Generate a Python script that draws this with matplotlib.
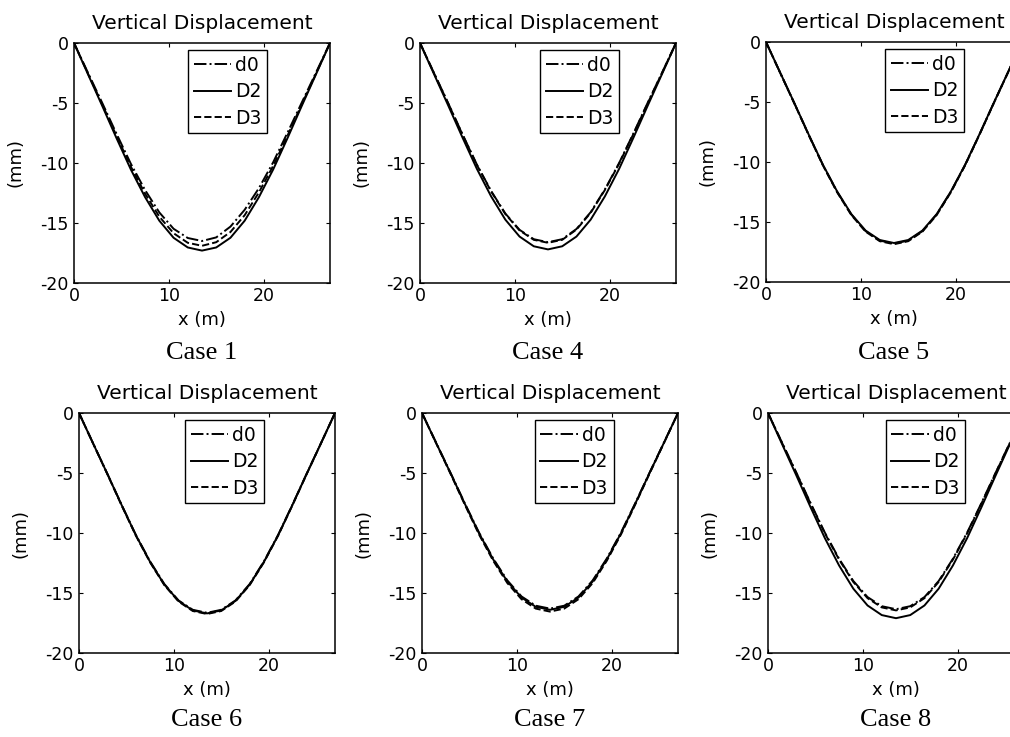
import matplotlib
matplotlib.use("Agg")
import matplotlib.pyplot as plt

plt.rcParams["axes.unicode_minus"] = False

# span positions (m), shared by every curve
x_m = [0, 1.5, 3, 4.5, 6, 7.5, 9, 10.5, 12, 13.5, 15, 16.5, 18, 19.5, 21, 22.5, 24, 25.5, 27]

# vertical displacement (mm)
case1_d0 = [0, -2.52, -5.03, -7.59, -10.07, -12.26, -14.12, -15.48, -16.25, -16.5, -16.2, -15.3, -13.9, -12.1, -9.95, -7.5, -5.0, -2.5, 0]
case1_D2 = [0, -2.65, -5.28, -7.96, -10.55, -12.85, -14.81, -16.23, -17.04, -17.3, -17.04, -16.23, -14.81, -12.85, -10.55, -7.96, -5.28, -2.65, 0]
case1_D3 = [0, -2.59, -5.15, -7.77, -10.31, -12.56, -14.47, -15.85, -16.65, -16.9, -16.6, -15.75, -14.35, -12.45, -10.25, -7.75, -5.15, -2.59, 0]

case4_d0 = [0, -2.54, -5.06, -7.64, -10.13, -12.33, -14.21, -15.57, -16.35, -16.6, -16.35, -15.5, -14.1, -12.2, -10.0, -7.55, -5.0, -2.52, 0]
case4_D2 = [0, -2.63, -5.25, -7.91, -10.49, -12.78, -14.72, -16.13, -16.94, -17.2, -16.94, -16.13, -14.72, -12.78, -10.49, -7.91, -5.25, -2.63, 0]
case4_D3 = [0, -2.55, -5.08, -7.66, -10.16, -12.37, -14.25, -15.62, -16.4, -16.65, -16.4, -15.55, -14.15, -12.25, -10.05, -7.6, -5.05, -2.54, 0]

case5_d0 = [0, -2.57, -5.12, -7.73, -10.25, -12.48, -14.38, -15.76, -16.55, -16.8, -16.55, -15.76, -14.38, -12.48, -10.25, -7.73, -5.12, -2.57, 0]
case5_D2 = [0, -2.56, -5.11, -7.71, -10.22, -12.45, -14.34, -15.71, -16.5, -16.75, -16.5, -15.71, -14.34, -12.45, -10.22, -7.71, -5.11, -2.56, 0]
case5_D3 = [0, -2.58, -5.14, -7.75, -10.28, -12.52, -14.42, -15.8, -16.6, -16.85, -16.6, -15.8, -14.42, -12.52, -10.28, -7.75, -5.14, -2.58, 0]

case6_d0 = [0, -2.55, -5.08, -7.66, -10.16, -12.37, -14.25, -15.62, -16.4, -16.65, -16.4, -15.62, -14.25, -12.37, -10.16, -7.66, -5.08, -2.55, 0]
case6_D2 = [0, -2.56, -5.09, -7.68, -10.19, -12.41, -14.3, -15.66, -16.45, -16.7, -16.45, -15.66, -14.3, -12.41, -10.19, -7.68, -5.09, -2.56, 0]
case6_D3 = [0, -2.56, -5.11, -7.71, -10.22, -12.45, -14.34, -15.71, -16.5, -16.75, -16.5, -15.71, -14.34, -12.45, -10.22, -7.71, -5.11, -2.56, 0]

case7_d0 = [0, -2.49, -4.97, -7.5, -9.94, -12.11, -13.95, -15.29, -16.06, -16.3, -16.06, -15.29, -13.95, -12.11, -9.94, -7.5, -4.97, -2.49, 0]
case7_D2 = [0, -2.51, -5.0, -7.54, -10.0, -12.19, -14.04, -15.38, -16.15, -16.4, -16.15, -15.38, -14.04, -12.19, -10.0, -7.54, -5.0, -2.51, 0]
case7_D3 = [0, -2.53, -5.05, -7.61, -10.1, -12.3, -14.17, -15.52, -16.3, -16.55, -16.3, -15.52, -14.17, -12.3, -10.1, -7.61, -5.05, -2.53, 0]

case8_d0 = [0, -2.5, -4.99, -7.52, -9.97, -12.15, -14.0, -15.34, -16.1, -16.35, -16.1, -15.34, -14.0, -12.15, -9.97, -7.52, -4.99, -2.5, 0]
case8_D2 = [0, -2.62, -5.22, -7.87, -10.43, -12.71, -14.64, -16.04, -16.84, -17.1, -16.84, -16.04, -14.64, -12.71, -10.43, -7.87, -5.22, -2.62, 0]
case8_D3 = [0, -2.52, -5.02, -7.57, -10.03, -12.22, -14.08, -15.43, -16.2, -16.45, -16.2, -15.43, -14.08, -12.22, -10.03, -7.57, -5.02, -2.52, 0]

case_names = ["Case 1", "Case 4", "Case 5", "Case 6", "Case 7", "Case 8"]
case_data = [
    (case1_d0, case1_D2, case1_D3),
    (case4_d0, case4_D2, case4_D3),
    (case5_d0, case5_D2, case5_D3),
    (case6_d0, case6_D2, case6_D3),
    (case7_d0, case7_D2, case7_D3),
    (case8_d0, case8_D2, case8_D3),
]
series_labels = ["d0", "D2", "D3"]
series_styles = ["-.", "-", "--"]

W, H = 1010, 737
# axes boxes in pixels: left, top
boxes = [(74, 43), (420, 43), (766, 42), (79, 413), (422, 413), (768, 413)]
legend_x = [0.445, 0.47, 0.465, 0.415, 0.44, 0.46]
AX_W, AX_H = 256, 240

fig = plt.figure(figsize=(W / 100, H / 100), dpi=100)

for i, (name, series) in enumerate(zip(case_names, case_data)):
    left, top = boxes[i]
    ax = fig.add_axes([left / W, 1 - (top + AX_H) / H, AX_W / W, AX_H / H])
    for y, lab, ls in zip(series, series_labels, series_styles):
        ax.plot(x_m, y, ls, color="black", lw=1.4, label=lab)
    ax.set_xlim(0, 27)
    ax.set_ylim(-20, 0)
    ax.set_xticks([0, 10, 20])
    ax.set_yticks([0, -5, -10, -15, -20])
    ax.tick_params(direction="in", top=True, right=True, length=3,
                   labelsize=12.5)
    ax.tick_params(axis="x", pad=3)
    ax.tick_params(axis="y", pad=4)
    for sp in ax.spines.values():
        sp.set_linewidth(1.1)
    ax.set_title("Vertical Displacement", fontsize=14.5, pad=10)
    ax.set_xlabel("x (m)", fontsize=13, labelpad=4)
    ax.set_ylabel("(mm)", fontsize=13, labelpad=11)
    leg = ax.legend(loc="upper left", bbox_to_anchor=(legend_x[i], 0.97),
                    fontsize=13.5, frameon=True, fancybox=False,
                    edgecolor="black", framealpha=1, handlelength=2.0,
                    handletextpad=0.2, borderpad=0.3, labelspacing=0.4,
                    borderaxespad=0)
    leg.get_frame().set_linewidth(1.0)
    cap_y = 353 if i < 3 else 720
    fig.text((left + AX_W / 2) / W, 1 - cap_y / H, name, ha="center",
             va="center", fontsize=19, family="Liberation Serif")

fig.savefig("out.png", dpi=100)
